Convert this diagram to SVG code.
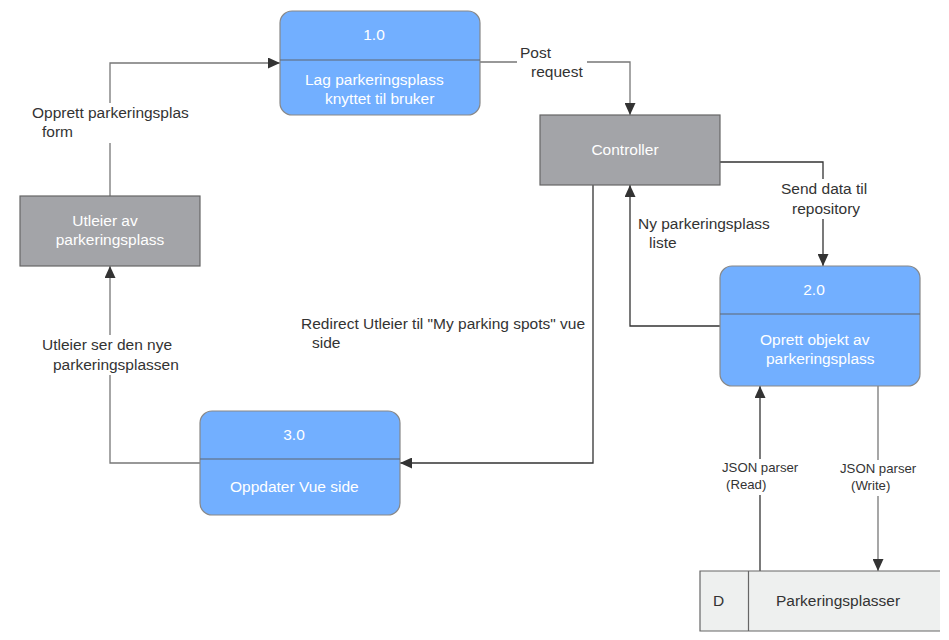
<svg xmlns="http://www.w3.org/2000/svg" width="949" height="640" viewBox="0 0 949 640">
<style>
text{font-family:"Liberation Sans",Arial,sans-serif;font-size:15.5px;fill:#333}
.w{fill:#fff}
.c{text-anchor:middle}
.s{font-size:13.2px}
.proc{fill:#72afff;stroke:#888;stroke-width:1.2}
.div{stroke:#5f6670;stroke-width:1.2}
.ent{fill:#a3a4a8;stroke:#666;stroke-width:1.2}
.ln{fill:none;stroke:#333;stroke-width:1.3}
.lg{fill:none;stroke:#777;stroke-width:1.3}
.bg{fill:#fff}
</style>
<defs>
<marker id="a" viewBox="0 0 12 11" refX="12" refY="5.5" markerWidth="12" markerHeight="11" markerUnits="userSpaceOnUse" orient="auto">
<path d="M0,0 L12,5.5 L0,11 z" fill="#333"/>
</marker>
</defs>
<rect width="949" height="640" fill="#fff"/>
<g id="connectors">
<path class="lg" d="M110,196 V63 H280" marker-end="url(#a)"/>
<path class="lg" d="M480,62 H630 V115" marker-end="url(#a)"/>
<path class="ln" d="M720,162 H823 V266" marker-end="url(#a)"/>
<path class="ln" d="M720,326 H630 V185" marker-end="url(#a)"/>
<path class="ln" d="M593,185 V463 H400" marker-end="url(#a)"/>
<path class="lg" d="M200,463 H110 V266" marker-end="url(#a)"/>
<path class="ln" d="M760,571 V386" marker-end="url(#a)"/>
<path class="lg" d="M878,386 V571" marker-end="url(#a)"/>
<rect class="bg" x="28" y="103" width="164" height="40"/>
<text x="32" y="118">Opprett parkeringsplas</text>
<text x="42" y="137">form</text>
<rect class="bg" x="517" y="43" width="70" height="40"/>
<text x="520" y="58">Post</text>
<text x="531" y="77">request</text>
<rect class="bg" x="778" y="179" width="92" height="40"/>
<text x="781" y="194">Send data til</text>
<text x="792" y="214">repository</text>
<text x="638" y="229">Ny parkeringsplass</text>
<text x="649" y="248">liste</text>
<text x="301" y="329">Redirect Utleier til "My parking spots" vue</text>
<text x="312" y="348">side</text>
<rect class="bg" x="38" y="335" width="146" height="40"/>
<text x="42" y="350">Utleier ser den nye</text>
<text x="53" y="370">parkeringsplassen</text>
<rect class="bg" x="719" y="459" width="84" height="36"/>
<text class="s" x="722" y="472">JSON parser</text>
<text class="s" x="726" y="489">(Read)</text>
<rect class="bg" x="837" y="460" width="84" height="36"/>
<text class="s" x="840" y="473">JSON parser</text>
<text class="s" x="851" y="490">(Write)</text>
</g>
<g id="node-1">
<rect class="proc" x="280" y="11" width="200" height="104" rx="12"/>
<line class="div" x1="280" y1="60" x2="480" y2="60"/>
<text class="w c" x="374" y="40">1.0</text>
<text class="w" x="305" y="85">Lag parkeringsplass</text>
<text class="w" x="325" y="104">knyttet til bruker</text>
</g>
<g id="controller">
<rect class="ent" x="540" y="115" width="180" height="70"/>
<text class="w c" x="625" y="155">Controller</text>
</g>
<g id="node-2">
<rect class="proc" x="720" y="266" width="200" height="120" rx="12"/>
<line class="div" x1="720" y1="314" x2="920" y2="314"/>
<text class="w c" x="814" y="295">2.0</text>
<text class="w" x="760" y="345">Oprett objekt av</text>
<text class="w" x="766" y="364">parkeringsplass</text>
</g>
<g id="utleier">
<rect class="ent" x="20" y="196" width="180" height="70"/>
<text class="w c" x="105" y="226">Utleier av</text>
<text class="w c" x="110" y="245">parkeringsplass</text>
</g>
<g id="node-3">
<rect class="proc" x="200" y="411" width="200" height="104" rx="12"/>
<line class="div" x1="200" y1="459" x2="400" y2="459"/>
<text class="w c" x="294" y="440">3.0</text>
<text class="w" x="230" y="492">Oppdater Vue side</text>
</g>
<g id="datastore">
<rect x="700" y="571" width="240" height="60" fill="#eef0ef"/>
<path d="M940,571 H700 V631 H940 M748.5,571 V631" fill="none" stroke="#666" stroke-width="1.2"/>
<text x="713" y="606">D</text>
<text x="776" y="606">Parkeringsplasser</text>
</g>
</svg>
